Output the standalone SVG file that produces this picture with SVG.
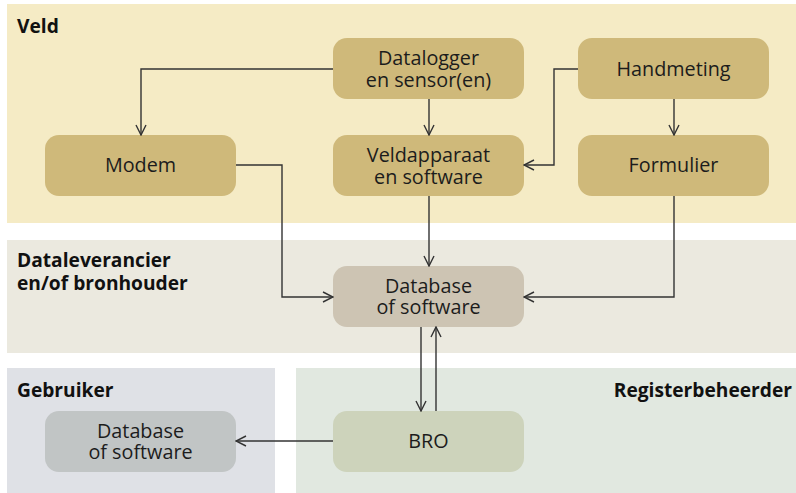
<svg xmlns="http://www.w3.org/2000/svg" width="796" height="493" viewBox="0 0 796 493">
<defs>
<marker id="arr" viewBox="0 0 12 12" refX="11" refY="6" markerWidth="12" markerHeight="12" markerUnits="userSpaceOnUse" orient="auto">
<path d="M1,1 L11,6 L1,11" fill="none" stroke="#333" stroke-width="1.4"/>
</marker>
<style>
.t{font-family:"Open Sans","Noto Sans",sans-serif;font-size:19.8px;fill:#1c1c1c;text-anchor:middle}
.h{font-family:"Open Sans","Noto Sans",sans-serif;font-size:19.2px;font-weight:bold;fill:#111}
.c{fill:none;stroke:#333;stroke-width:1.4;marker-end:url(#arr)}
.veld{fill:#cfb97a}
</style>
</defs>
<rect width="796" height="493" fill="#fff"/>
<g id="panels">
<rect x="7" y="4" width="789" height="219" fill="#f5ebc5"/>
<rect x="7" y="240" width="789" height="113" fill="#ebe9df"/>
<rect x="7" y="368" width="268" height="125" fill="#dfe1e6"/>
<rect x="296" y="368" width="500" height="125" fill="#e1e8e0"/>
<text class="h" x="17" y="33">Veld</text>
<text class="h" x="17" y="267">Dataleverancier</text>
<text class="h" x="17" y="290">en/of bronhouder</text>
<text class="h" x="17" y="397">Gebruiker</text>
<text class="h" x="792" y="397" text-anchor="end">Registerbeheerder</text>
</g>
<g id="datalogger"><rect class="veld" x="333" y="38" width="191" height="61" rx="14"/><text class="t" x="428.5" y="65">Datalogger</text><text class="t" x="428.5" y="87">en sensor(en)</text></g>
<g id="handmeting"><rect class="veld" x="578" y="38" width="191" height="61" rx="14"/><text class="t" x="673.5" y="76">Handmeting</text></g>
<g id="modem"><rect class="veld" x="45" y="135" width="191" height="61" rx="14"/><text class="t" x="140.5" y="172">Modem</text></g>
<g id="veldapparaat"><rect class="veld" x="333" y="135" width="191" height="61" rx="14"/><text class="t" x="428.5" y="162">Veldapparaat</text><text class="t" x="428.5" y="184">en software</text></g>
<g id="formulier"><rect class="veld" x="578" y="135" width="191" height="61" rx="14"/><text class="t" x="673.5" y="172">Formulier</text></g>
<g id="database"><rect x="333" y="266" width="191" height="61" rx="14" fill="#cdc4b3"/><text class="t" x="428.5" y="293">Database</text><text class="t" x="428.5" y="314">of software</text></g>
<g id="gebruiker-database"><rect x="45" y="411" width="191" height="61" rx="14" fill="#c1c5c5"/><text class="t" x="140.5" y="438">Database</text><text class="t" x="140.5" y="459">of software</text></g>
<g id="bro"><rect x="333" y="411" width="191" height="61" rx="14" fill="#cdd3bb"/><text class="t" x="428.5" y="448">BRO</text></g>
<g id="connectors">
<path class="c" d="M333,69 H141 V135"/>
<path class="c" d="M429,99 V135"/>
<path class="c" d="M578,69 H554 V165 H524"/>
<path class="c" d="M674,99 V135"/>
<path class="c" d="M236,165 H282 V297 H333"/>
<path class="c" d="M429,196 V266"/>
<path class="c" d="M674,196 V297 H524"/>
<path class="c" d="M421,327 V411"/>
<path class="c" d="M436,411 V327"/>
<path class="c" d="M333,441 H236"/>
</g>
</svg>
